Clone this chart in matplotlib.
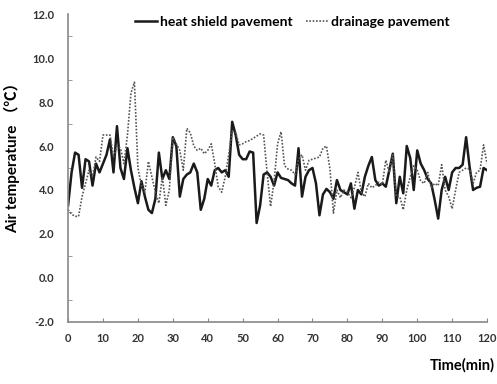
import numpy as np
import matplotlib.pyplot as plt

plt.rcParams['font.family'] = ['Lato', 'Noto Sans CJK SC', 'DejaVu Sans']
plt.rcParams['font.weight'] = 'bold'
plt.rcParams['axes.labelweight'] = 'bold'

minutes = np.arange(0, 121)

heat_shield = [3.3, 4.8, 5.7, 5.6, 4.1, 5.4, 5.3, 4.2, 5.2, 4.8,
               5.2, 5.6, 6.3, 4.8, 6.9, 5.0, 4.5, 5.9, 4.9, 4.1,
               3.4, 4.4, 3.7, 3.1, 2.95, 3.6, 5.7, 4.5, 4.9, 4.5,
               6.4, 6.0, 3.7, 4.5, 4.7, 4.8, 5.2, 4.8, 3.1, 3.6,
               4.5, 4.2, 4.9, 5.0, 4.8, 4.9, 4.6, 7.1, 6.5, 5.6,
               5.4, 5.4, 5.75, 5.7, 2.5, 3.3, 4.7, 4.8, 4.6, 4.2,
               4.8, 4.55, 4.5, 4.45, 4.3, 4.2, 5.9, 3.7, 4.6, 4.9,
               5.0, 4.3, 2.85, 3.8, 4.05, 3.9, 3.6, 4.45, 4.0, 3.9,
               3.8, 4.3, 3.15, 4.0, 3.8, 4.6, 5.1, 5.5, 4.45, 4.2,
               4.3, 4.15, 4.9, 5.65, 3.4, 4.6, 3.85, 6.0, 5.45, 4.0,
               5.8, 5.2, 4.9, 4.5, 4.3, 3.55, 2.7, 4.0, 4.6, 4.0,
               4.8, 5.0, 5.0, 5.15, 6.4, 5.05, 4.0, 4.1, 4.15, 5.0,
               4.9]

drainage = [3.1, 2.9, 2.8, 2.8, 3.7, 4.3, 4.9, 4.6, 5.5, 5.3,
            6.5, 6.5, 6.5, 5.5, 6.0, 5.9, 5.2, 6.5, 8.4, 8.9,
            5.0, 4.2, 3.9, 5.3, 4.6, 3.9, 3.4, 4.6, 3.3, 4.0,
            6.4, 6.1, 5.8, 4.9, 6.8, 6.6, 6.0, 5.8, 5.9, 5.65,
            5.8, 6.1, 5.2, 4.15, 3.9, 4.6, 5.6, 6.7, 6.6, 6.05,
            6.1, 6.2, 6.25, 6.35, 6.45, 6.55, 6.5, 4.8, 3.25, 4.4,
            6.1, 6.65, 5.1, 4.95, 4.9, 4.7, 5.4, 5.6, 4.9, 5.35,
            5.4, 5.45, 5.5, 5.9, 6.0, 4.95, 2.95, 4.0, 3.65, 4.0,
            3.9, 3.65, 4.1, 4.8, 3.9, 3.7, 4.3, 4.1, 4.2, 4.35,
            4.25, 5.35, 4.8, 5.6, 3.7, 3.7, 3.1, 4.0, 4.6, 5.1,
            4.9, 4.4, 4.3, 4.8, 4.1, 4.3, 4.2, 5.15, 4.0, 3.7,
            3.15, 4.0, 4.8, 4.9, 5.0, 4.95, 4.3, 4.8, 4.9, 6.05,
            5.2]

xticks = np.arange(0, 121, 10)
yticks = np.arange(-2, 12.1, 2)

fig = plt.figure(figsize=(4.97, 3.84), dpi=100)
ax = fig.add_axes([0.137, 0.1615, 0.843, 0.802])

ax.plot(minutes, heat_shield, color='#1a1a1a', lw=1.8, label='heat shield pavement')
ax.plot(minutes, drainage, color='#555555', lw=1.2, ls=(0, (1, 1)), label='drainage pavement')

ax.set_xlim(0, 120)
ax.set_ylim(-2, 12)
ax.set_xticks(xticks)
ax.set_yticks(yticks)
ax.set_yticklabels(['%.1f' % v for v in yticks])
ax.set_yticks(np.arange(-1, 12, 2), minor=True)
ax.tick_params(axis='y', which='major', length=0, pad=10, labelsize=8, labelcolor='#333333')
ax.tick_params(axis='y', which='minor', length=3, direction='in', color='#888888')
ax.tick_params(axis='x', length=3, direction='in', color='#888888', pad=8,
               labelsize=8, labelcolor='#333333')

for s in ['top', 'right']:
    ax.spines[s].set_visible(False)
for s in ['left', 'bottom']:
    ax.spines[s].set_color('#888888')
    ax.spines[s].set_linewidth(1.2)

ax.set_ylabel('Air temperature （℃）', fontsize=11, fontweight='bold')
ax.yaxis.set_label_coords(-0.115, 0.545)
fig.text(0.996, 0.03, 'Time(min)', ha='right', va='bottom', fontsize=10.5, fontweight='bold')

leg = ax.legend(loc='upper center', bbox_to_anchor=(0.535, 1.035), ncol=2, frameon=False,
                fontsize=10, handlelength=1.6, handletextpad=0.2, columnspacing=1.0)

fig.savefig('out.png', dpi=100)
